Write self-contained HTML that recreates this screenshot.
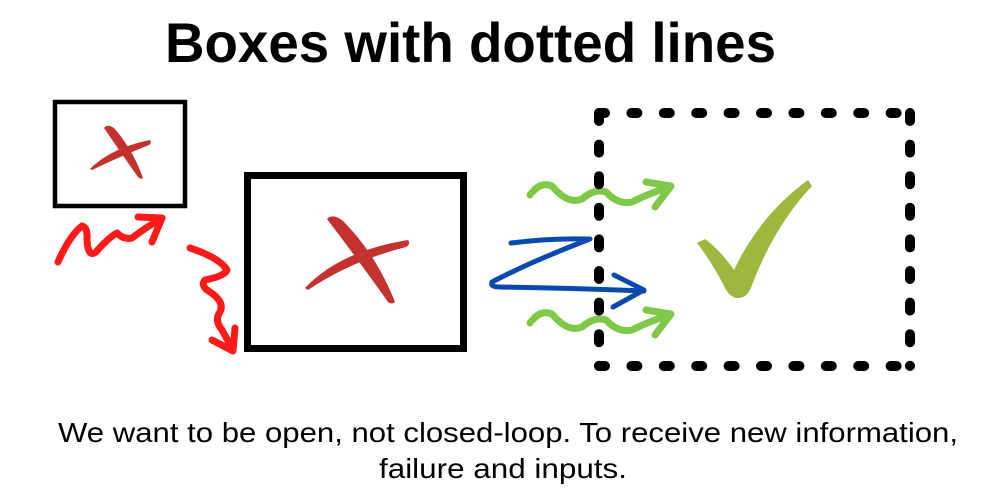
<!DOCTYPE html>
<html><head><meta charset="utf-8"><style>
html,body{margin:0;padding:0;background:#fff;}
svg{display:block;}
</style></head><body>
<svg width="1000" height="500" viewBox="0 0 1000 500" xmlns="http://www.w3.org/2000/svg">
<rect width="1000" height="500" fill="#fff"/>
<text x="165" y="62" font-family="Liberation Sans, sans-serif" font-weight="bold" font-size="56" textLength="611" lengthAdjust="spacingAndGlyphs" fill="#000">Boxes with dotted lines</text>

<rect x="55" y="102" width="130" height="104" fill="none" stroke="#000" stroke-width="4.5"/>
<rect x="247.5" y="175.5" width="216" height="173" fill="none" stroke="#000" stroke-width="7"/>

<g fill="#c43230">
<path d="M104,128 Q108,123 115,129 Q133,150 143,178 Q141,180 138,177 Q121,153 104,128 Z"/>
<path d="M90,169 Q111,148 150,140 Q152,143 149,145 Q119,157 92,170 Z"/>
<path d="M327,219 Q333,213 343,221 Q376,254 395,302 Q392,305 388,302 Q359,261 327,219 Z"/>
<path d="M305,288 Q340,251 408,240 Q411,244 406,247 Q351,261 308,290 Z"/>
</g>

<path d="M697,243 L705,239 Q720,250 734,270 Q760,215 808,180 L812,186 Q775,225 752,285 Q748,298 738,298 Q730,298 725,288 Q712,262 697,243 Z" fill="#9db83d"/>

<g fill="none" stroke="#ff1a1a" stroke-width="7" stroke-linecap="round" stroke-linejoin="round">
<path d="M58,262 Q70,235 82,226 Q88,228 87,240 Q88,258 96,252 Q108,238 117,233 Q124,240 132,238 Q145,228 162,218"/>
<path d="M138,217 L162,218 L152,242"/>
<path d="M190,248 Q220,258 227,270 Q225,276 205,280 Q200,286 210,292 Q225,302 220,312 Q214,320 222,330 L233,350"/>
<path d="M212,340 L233,351 L235,328"/>
</g>

<g fill="none" stroke="#7ec84a" stroke-width="7" stroke-linecap="round" stroke-linejoin="round">
<path d="M530,195 Q540,181 552,186 Q568,205 582,199 Q595,188 606,192 Q618,205 632,202 Q652,192 670,187"/>
<path d="M646,182 L671,186 L655,207"/>
<path d="M530,323 Q540,309 552,314 Q568,333 582,327 Q595,316 606,320 Q618,333 632,330 Q652,320 670,315"/>
<path d="M646,310 L671,314 L655,335"/>
</g>

<g fill="none" stroke="#0a4aad" stroke-width="5" stroke-linecap="round" stroke-linejoin="round">
<path d="M511,243 Q550,238 590,239 Q530,262 492,282 Q490,287 500,287 Q570,288 644,291"/>
<path d="M614,275 L644,290 L613,307"/>
</g>

<g fill="none" stroke="#000" stroke-width="10" stroke-linecap="round">
<path d="M599,113 L910,113" stroke-dasharray="6 26.4"/>
<path d="M599,366 L910,366" stroke-dasharray="6 26.4"/>
<path d="M599,113 L599,366" stroke-dasharray="8 23.6"/>
<path d="M910,113 L910,366" stroke-dasharray="8 23.6"/>
</g>

<g font-family="Liberation Sans, sans-serif" font-size="28" fill="#000">
<text x="58" y="442" textLength="900" lengthAdjust="spacingAndGlyphs">We want to be open, not closed-loop. To receive new information,</text>
<text x="379" y="478" textLength="248" lengthAdjust="spacingAndGlyphs">failure and inputs.</text>
</g>
</svg>
</body></html>
